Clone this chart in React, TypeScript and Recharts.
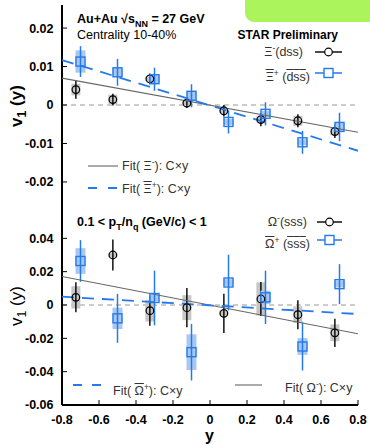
import React from "react";
import { ComposedChart, Scatter, ErrorBar, XAxis, YAxis, ReferenceLine } from "recharts";

// ── data ──────────────────────────────────────────────────────────────────
const xTicks = [-0.8, -0.6, -0.4, -0.2, 0, 0.2, 0.4, 0.6, 0.8];
const topYTicks = [-0.02, -0.01, 0, 0.01, 0.02];
const bottomYTicks = [-0.06, -0.04, -0.02, 0, 0.02, 0.04];

// particles (black circles) sit a bit left, antiparticles (blue squares) on the bin centre
const particleY = [-0.725, -0.525, -0.325, -0.125, 0.075, 0.275, 0.475, 0.675];
const antiY = [-0.7, -0.5, -0.3, -0.1, 0.1, 0.3, 0.5, 0.7];

const xiMinusV1 = [0.004, 0.0014, 0.0068, 0.0005, -0.0015, -0.0038, -0.0041, -0.0069];
const xiMinusStat = [0.0024, 0.0015, 0.0014, 0.0013, 0.0015, 0.0017, 0.0017, 0.0017];
const xiMinusSys = [0.0015, 0.0013, 0.0006, 0.0005, 0.0006, 0.0008, 0.0013, 0.001];

const xiPlusV1 = [0.0113, 0.0085, 0.0067, 0.0024, -0.0044, -0.0023, -0.0097, -0.0057];
const xiPlusStat = [0.004, 0.0035, 0.003, 0.003, 0.003, 0.003, 0.003, 0.0037];
const xiPlusSys = [0.0029, 0.0012, 0.001, 0.0012, 0.0008, 0.0008, 0.0008, 0.001];

const omegaMinusV1 = [0.0046, 0.03, -0.0034, -0.0016, -0.005, 0.0036, -0.0058, -0.0167];
const omegaMinusStat = [0.009, 0.0093, 0.009, 0.0118, 0.0118, 0.0102, 0.0087, 0.0085];
const omegaMinusSys = [0.0067, 0.0015, 0.0065, 0.0075, 0.0015, 0.01, 0.005, 0.005];

const omegaPlusV1 = [0.0264, -0.008, 0.0042, -0.0283, 0.0135, 0.0046, -0.0249, 0.0125];
const omegaPlusStat = [0.0125, 0.0147, 0.0164, 0.017, 0.0167, 0.016, 0.0144, 0.012];
const omegaPlusSys = [0.0077, 0.0064, 0.002, 0.0107, 0.002, 0.004, 0.005, 0.002];

// fit lines, end points at y = -0.8 and 0.8
const fitEnds = [-0.8, 0.8];
const xiMinusFit = [0.007, -0.0071];
const xiPlusFit = [0.0117, -0.0119];
const omegaMinusFit = [0.0171, -0.0173];
const omegaPlusFit = [0.005, -0.0054];

const FONT = '"Liberation Sans", Arial, Helvetica, sans-serif';
const BLUE = "#2479ec";
const BLUE_BOX = "#a9c8f1";
const GRAY_BOX = "#c6c6c6";
const FIT_GRAY = "#666";

type Row = { x: number; v: number; stat?: number; sys?: number };

const rows = (xs: number[], v: number[], stat: number[], sys: number[]): Row[] =>
  xs.map((x, i) => ({ x, v: v[i], stat: stat[i], sys: sys[i] }));
const fitRows = (v: number[]): Row[] => fitEnds.map((x, i) => ({ x, v: v[i] }));

const Circle = (p: any) => (
  <circle cx={p.cx} cy={p.cy} r={3.8} fill="none" stroke="#000" strokeWidth={1.2} />
);
const Square = (p: any) => (
  <g>
    <rect x={p.cx - 4.5} y={p.cy - 4.5} width={9} height={9} fill="none" stroke={BLUE} strokeWidth={1.4} />
    <circle cx={p.cx} cy={p.cy} r={0.7} fill={BLUE} />
  </g>
);
const Nothing = () => <g />;

const tickStyle = { fontSize: 12.5, fontWeight: 700, fill: "#000", fontFamily: FONT };
const axisLine = { stroke: "#000", strokeWidth: 2 };
const tickLine = { stroke: "#000", strokeWidth: 1 };

interface PanelProps {
  height: number;
  margin: { top: number; right: number; bottom: number; left: number };
  domain: [number, number];
  yTicks: number[];
  showX: boolean;
  particle: Row[];
  anti: Row[];
  particleFit: Row[];
  antiFit: Row[];
}

function Panel({ height, margin, domain, yTicks, showX, particle, anti, particleFit, antiFit }: PanelProps) {
  return (
    <ComposedChart width={370} height={height} margin={margin}>
      <XAxis
        dataKey="x"
        type="number"
        domain={[-0.8, 0.8]}
        ticks={xTicks}
        allowDataOverflow
        height={showX ? 40 : 0}
        tick={showX ? tickStyle : false}
        tickFormatter={(v: number) => (v === 0 ? "0" : v.toFixed(1))}
        tickSize={-5}
        tickMargin={15}
        axisLine={axisLine}
        tickLine={tickLine}
      />
      <XAxis
        xAxisId="top"
        orientation="top"
        type="number"
        domain={[-0.8, 0.8]}
        ticks={xTicks}
        allowDataOverflow
        height={0}
        tick={false}
        tickSize={-5}
        axisLine={axisLine}
        tickLine={tickLine}
      />
      <YAxis
        dataKey="v"
        type="number"
        domain={domain}
        ticks={yTicks}
        allowDataOverflow
        width={62}
        tick={tickStyle}
        tickFormatter={(v: number) => (v === 0 ? "0" : v.toFixed(2))}
        tickSize={-5}
        tickMargin={13.5}
        axisLine={axisLine}
        tickLine={tickLine}
      />
      <YAxis
        yAxisId="right"
        orientation="right"
        type="number"
        domain={domain}
        ticks={yTicks}
        allowDataOverflow
        width={0}
        tick={false}
        tickSize={-5}
        axisLine={axisLine}
        tickLine={tickLine}
      />
      <ReferenceLine y={0} stroke="#999" strokeDasharray="5 4" strokeWidth={1} />
      <Scatter data={particleFit} shape={Nothing} line={{ stroke: FIT_GRAY, strokeWidth: 1.1 }} isAnimationActive={false} />
      <Scatter
        data={antiFit}
        shape={Nothing}
        line={{ stroke: BLUE, strokeWidth: 1.8, strokeDasharray: "12 8" }}
        isAnimationActive={false}
      />
      <Scatter data={particle} shape={Circle} isAnimationActive={false}>
        <ErrorBar dataKey="sys" direction="y" width={0} stroke={GRAY_BOX} strokeWidth={9} />
        <ErrorBar dataKey="stat" direction="y" width={0} stroke="#000" strokeWidth={1.4} />
      </Scatter>
      <Scatter data={anti} shape={Square} isAnimationActive={false}>
        <ErrorBar dataKey="sys" direction="y" width={0} stroke={BLUE_BOX} strokeWidth={10} />
        <ErrorBar dataKey="stat" direction="y" width={0} stroke={BLUE} strokeWidth={1.5} />
      </Scatter>
    </ComposedChart>
  );
}

function Txt({
  left,
  right,
  top,
  size = 12.5,
  lh,
  bold = false,
  color = "#000",
  children,
}: {
  left?: number;
  right?: number;
  top: number;
  size?: number;
  lh?: number;
  bold?: boolean;
  color?: string;
  children: React.ReactNode;
}) {
  return (
    <div
      style={{
        position: "absolute",
        left,
        right,
        top,
        fontSize: size,
        fontWeight: bold ? 700 : 400,
        color,
        lineHeight: `${lh ?? size + 2}px`,
        whiteSpace: "nowrap",
        fontFamily: FONT,
      }}
    >
      {children}
    </div>
  );
}

const Sup = ({ children }: { children: React.ReactNode }) => (
  <span style={{ fontSize: "0.68em", verticalAlign: "super", lineHeight: 0 }}>{children}</span>
);
const Sub = ({ children }: { children: React.ReactNode }) => (
  <span style={{ fontSize: "0.72em", verticalAlign: "sub", lineHeight: 0 }}>{children}</span>
);
const Bar = ({ children }: { children: React.ReactNode }) => (
  <span style={{ textDecoration: "overline" }}>{children}</span>
);

function YLabel({ cy, bold }: { cy: number; bold: boolean }) {
  return (
    <div
      style={{
        position: "absolute",
        left: 17 - 50,
        top: cy - 10,
        width: 100,
        height: 20,
        lineHeight: "20px",
        textAlign: "center",
        transform: "rotate(-90deg)",
        fontFamily: FONT,
        fontSize: 17,
        fontWeight: bold ? 700 : 400,
        whiteSpace: "nowrap",
      }}
    >
      v<Sub>1</Sub> (y)
    </div>
  );
}

export default function App() {
  const xiMinus = rows(particleY, xiMinusV1, xiMinusStat, xiMinusSys);
  const xiPlus = rows(antiY, xiPlusV1, xiPlusStat, xiPlusSys);
  const omegaMinus = rows(particleY, omegaMinusV1, omegaMinusStat, omegaMinusSys);
  const omegaPlus = rows(antiY, omegaPlusV1, omegaPlusStat, omegaPlusSys);

  return (
    <div style={{ position: "absolute", left: 0, top: 0, width: 370, height: 445, background: "#fff", overflow: "hidden" }}>
      <div style={{ position: "absolute", left: 0, top: 0 }}>
        <Panel
          height={210}
          margin={{ top: 5, right: 12, bottom: 5, left: 0 }}
          domain={[-0.026, 0.026]}
          yTicks={topYTicks}
          showX={false}
          particle={xiMinus}
          anti={xiPlus}
          particleFit={fitRows(xiMinusFit)}
          antiFit={fitRows(xiPlusFit)}
        />
      </div>
      <div style={{ position: "absolute", left: 0, top: 205 }}>
        <Panel
          height={240}
          margin={{ top: 0, right: 12, bottom: 0, left: 0 }}
          domain={[-0.06, 0.06]}
          yTicks={bottomYTicks}
          showX={true}
          particle={omegaMinus}
          anti={omegaPlus}
          particleFit={fitRows(omegaMinusFit)}
          antiFit={fitRows(omegaPlusFit)}
        />
      </div>

      {/* legend samples */}
      <svg width={370} height={445} style={{ position: "absolute", left: 0, top: 0, pointerEvents: "none" }}>
        <line x1={315} x2={342} y1={52} y2={52} stroke="#000" strokeWidth={1.4} />
        <circle cx={328.5} cy={52} r={3.8} fill="#fff" stroke="#000" strokeWidth={1.2} />
        <line x1={315} x2={342} y1={73} y2={73} stroke={BLUE} strokeWidth={1.5} />
        <rect x={324} y={68.5} width={9} height={9} fill="#fff" stroke={BLUE} strokeWidth={1.4} />
        <line x1={88} x2={118} y1={166} y2={166} stroke={FIT_GRAY} strokeWidth={1.1} />
        <line x1={88} x2={120} y1={188} y2={188} stroke={BLUE} strokeWidth={1.8} strokeDasharray="9 11" />

        <line x1={317} x2={342} y1={222} y2={222} stroke="#000" strokeWidth={1.4} />
        <circle cx={329.5} cy={222} r={3.8} fill="#fff" stroke="#000" strokeWidth={1.2} />
        <line x1={317} x2={342} y1={240} y2={240} stroke={BLUE} strokeWidth={1.5} />
        <rect x={325} y={235.5} width={9} height={9} fill="#fff" stroke={BLUE} strokeWidth={1.4} />
        <line x1={73} x2={101} y1={385} y2={385} stroke={BLUE} strokeWidth={1.8} strokeDasharray="9 10" />
        <line x1={235} x2={262} y1={385} y2={385} stroke={FIT_GRAY} strokeWidth={1.1} />
      </svg>

      {/* top panel texts */}
      <Txt left={77} top={11.5} bold>
        Au+Au √s<Sub>NN</Sub> = 27 GeV
      </Txt>
      <Txt left={77} top={28}>Centrality 10-40%</Txt>
      <Txt right={370 - 338} top={28} size={12} bold>
        STAR Preliminary
      </Txt>
      <Txt right={370 - 303} top={45} color="#333">
        Ξ<Sup>-</Sup>(dss)
      </Txt>
      <Txt right={370 - 310} top={70} color="#333">
        <Bar>Ξ</Bar>
        <Sup>+</Sup> (<Bar>d</Bar>
        <Bar>s</Bar>
        <Bar>s</Bar>)
      </Txt>
      <Txt left={122} top={159} color="#333">
        Fit( Ξ<Sup>-</Sup>): C×y
      </Txt>
      <Txt left={122} top={182} color="#333">
        Fit( <Bar>Ξ</Bar>
        <Sup>+</Sup>): C×y
      </Txt>

      {/* bottom panel texts */}
      <Txt left={77} top={215} bold>
        0.1 &lt; p<Sub>T</Sub>/n<Sub>q</Sub> (GeV/c) &lt; 1
      </Txt>
      <Txt right={370 - 307} top={215} color="#333">
        Ω<Sup>-</Sup>(sss)
      </Txt>
      <Txt right={370 - 310} top={237} color="#333">
        <Bar>Ω</Bar>
        <Sup>+</Sup> (<Bar>s</Bar>
        <Bar>s</Bar>
        <Bar>s</Bar>)
      </Txt>
      <Txt left={113} top={384} color="#333">
        Fit( <Bar>Ω</Bar>
        <Sup>+</Sup>): C×y
      </Txt>
      <Txt left={285} top={381} color="#333">
        Fit( Ω<Sup>-</Sup>): C×y
      </Txt>

      <YLabel cy={106} bold={true} />
      <YLabel cy={306} bold={false} />
      <Txt left={205} top={430} size={16} lh={12} bold>
        y
      </Txt>

      {/* green sticker in the corner */}
      <div
        style={{
          position: "absolute",
          left: 245,
          top: 0,
          width: 125,
          height: 22,
          background: "#abf45c",
          borderBottomLeftRadius: 9,
        }}
      />
    </div>
  );
}
